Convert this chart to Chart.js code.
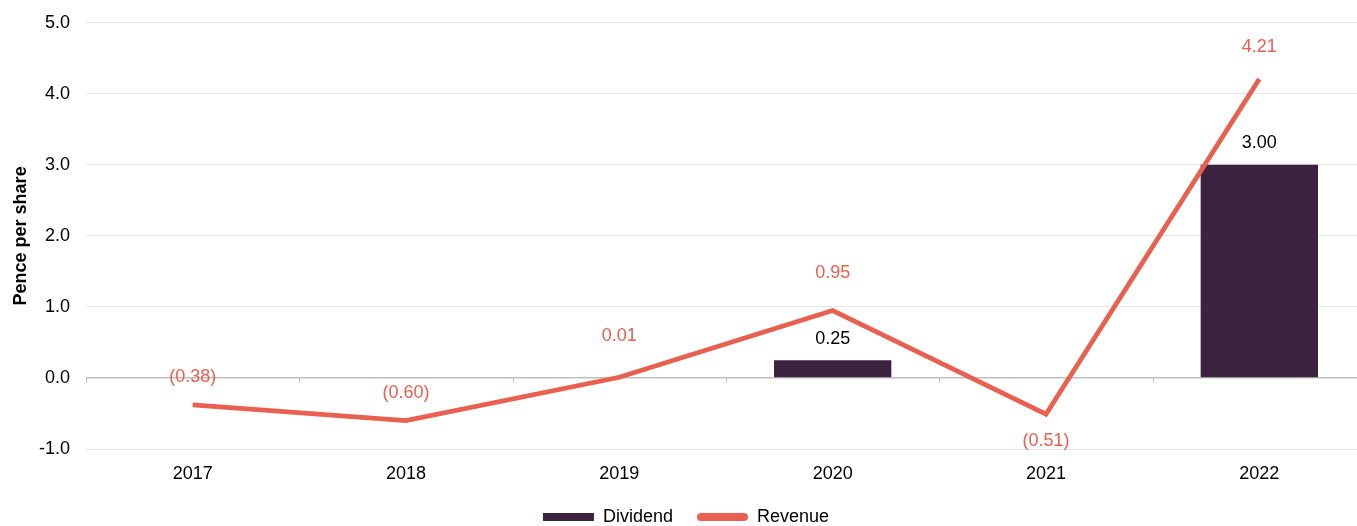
<!DOCTYPE html>
<html>
<head>
<meta charset="utf-8">
<title>Pence per share</title>
<script src="https://cdn.jsdelivr.net/npm/chart.js@4.4.1/dist/chart.umd.min.js"></script>
<style>
  html, body { margin: 0; padding: 0; background: #fff; overflow: hidden; }
  #wrap { position: relative; top: -4px; width: 1370px; height: 540px; }
</style>
</head>
<body>
<div id="wrap"><canvas id="epsChart"></canvas></div>
<script>
const years = ['2017', '2018', '2019', '2020', '2021', '2022'];
const dividend = [null, null, null, 0.25, null, 3.00];
const revenue = [-0.38, -0.60, 0.01, 0.95, -0.51, 4.21];
const yTicks = [-1, 0, 1, 2, 3, 4, 5];

const FONT = '"Liberation Sans", Arial, sans-serif';
const PURPLE = '#3c2340';
const RED = '#e8604f';

// negatives shown in brackets, as in the accounts
function fmt(v) {
    return v < 0 ? '(' + Math.abs(v).toFixed(2) + ')' : v.toFixed(2);
}

// value labels over the bars and line points (vertical offset in px per point)
const valueLabels = {
    id: 'valueLabels',
    afterDatasetsDraw(chart, args, opts) {
        const ctx = chart.ctx;
        ctx.save();
        ctx.font = '18px ' + FONT;
        ctx.textAlign = 'center';
        ctx.textBaseline = 'middle';
        chart.data.datasets.forEach((ds, di) => {
            const meta = chart.getDatasetMeta(di);
            const offs = opts.offsets[di];
            meta.data.forEach((el, i) => {
                const v = ds.data[i];
                if (v === null || v === undefined) return;
                ctx.fillStyle = opts.colors[di];
                ctx.fillText(fmt(v), el.x, el.y + offs[i]);
            });
        });
        ctx.restore();
    }
};

// small tick marks on the zero line between the categories
const zeroTicks = {
    id: 'zeroTicks',
    beforeDatasetsDraw(chart) {
        const x = chart.scales.x, y = chart.scales.y;
        const ctx = chart.ctx;
        const y0 = y.getPixelForValue(0);
        const step = x.getPixelForValue(1) - x.getPixelForValue(0);
        ctx.save();
        ctx.strokeStyle = '#bfbfbf';
        ctx.lineWidth = 1;
        for (let i = 0; i <= years.length; i++) {
            const px = Math.round(x.getPixelForValue(0) - step / 2 + i * step) + 0.5;
            ctx.beginPath();
            ctx.moveTo(px, y0);
            ctx.lineTo(px, y0 + 5);
            ctx.stroke();
        }
        ctx.restore();
    }
};

const ctx = document.getElementById('epsChart').getContext('2d');
new Chart(ctx, {
    type: 'bar',
    data: {
        labels: years,
        datasets: [{
            label: 'Dividend',
            data: dividend,
            backgroundColor: PURPLE,
            barPercentage: 0.55,
            categoryPercentage: 1,
            order: 1
        }, {
            type: 'line',
            label: 'Revenue',
            data: revenue,
            borderColor: RED,
            backgroundColor: RED,
            borderWidth: 4.8,
            pointRadius: 0,
            tension: 0,
            order: 0
        }]
    },
    options: {
        responsive: true,
        maintainAspectRatio: false,
        animation: false,
        layout: { padding: { top: 18, right: 4, bottom: 0, left: 6 } },
        plugins: {
            tooltip: { enabled: false },
            legend: {
                position: 'bottom',
                labels: {
                    font: { family: FONT, size: 18 },
                    color: '#000',
                    boxWidth: 51,
                    boxHeight: 8,
                    padding: 24,
                    sort: (a, b) => a.datasetIndex - b.datasetIndex,
                    generateLabels(chart) {
                        const items = Chart.defaults.plugins.legend.labels.generateLabels(chart);
                        items.forEach(it => {
                            it.lineWidth = 0;
                            if (it.datasetIndex === 1) it.borderRadius = 4;
                        });
                        return items;
                    }
                }
            },
            valueLabels: {
                colors: ['#000', RED],
                offsets: [
                    [0, 0, 0, -21, 0, -22],
                    [-28, -28, -41, -37, 27, -32]
                ]
            }
        },
        scales: {
            x: {
                grid: { display: false },
                border: { display: false },
                afterFit(scale) { scale.height = 35; },
                ticks: {
                    font: { family: FONT, size: 18 },
                    color: '#000',
                    padding: 6
                }
            },
            y: {
                min: -1,
                max: 5,
                afterBuildTicks(scale) {
                    scale.ticks = yTicks.map(v => ({ value: v }));
                },
                afterFit(scale) { scale.width = 80; },
                border: { display: false },
                grid: {
                    drawTicks: false,
                    color: c => c.tick && c.tick.value === 0 ? '#bfbfbf' : '#e6e6e6',
                    lineWidth: c => c.tick && c.tick.value === 0 ? 1.5 : 1
                },
                ticks: {
                    font: { family: FONT, size: 18 },
                    color: '#000',
                    padding: 16,
                    callback: v => v.toFixed(1)
                },
                title: {
                    display: true,
                    text: 'Pence per share',
                    font: { family: FONT, size: 18, weight: 'bold' },
                    color: '#000',
                    padding: { top: 4, bottom: 0 }
                }
            }
        }
    },
    plugins: [zeroTicks, valueLabels]
});
</script>
</body>
</html>
